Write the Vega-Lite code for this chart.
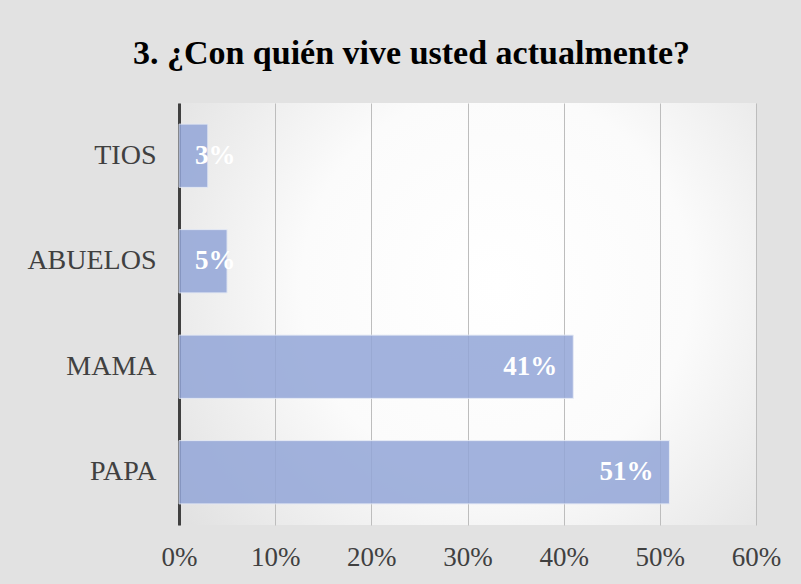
{
  "$schema": "https://vega.github.io/schema/vega-lite/v6.json",
  "width": 577,
  "height": 422,
  "autosize": {"type": "none"},
  "padding": {"left": 179, "top": 103, "right": 45, "bottom": 59},
  "background": "#e2e2e2",
  "title": {
    "text": "3. ¿Con quién vive usted actualmente?",
    "font": "Liberation Serif",
    "fontSize": 34,
    "fontWeight": "bold",
    "color": "#000000",
    "anchor": "middle",
    "dx": -56,
    "baseline": "alphabetic",
    "offset": 5
  },
  "config": {
    "view": {
      "stroke": null,
      "fill": {
        "gradient": "radial",
        "x1": 0.55, "y1": 0.45, "r1": 0,
        "x2": 0.55, "y2": 0.45, "r2": 0.75,
        "stops": [
          {"offset": 0, "color": "#ffffff"},
          {"offset": 0.45, "color": "#fbfbfb"},
          {"offset": 1, "color": "#dcdcdc"}
        ]
      }
    }
  },
  "data": {
    "values": [
      {"categoria": "TIOS", "valor": 0.03},
      {"categoria": "ABUELOS", "valor": 0.05},
      {"categoria": "MAMA", "valor": 0.41},
      {"categoria": "PAPA", "valor": 0.51}
    ]
  },
  "encoding": {
    "y": {
      "field": "categoria",
      "type": "nominal",
      "sort": ["TIOS", "ABUELOS", "MAMA", "PAPA"],
      "scale": {"paddingInner": 0.4, "paddingOuter": 0.2},
      "axis": {
        "title": null,
        "ticks": false,
        "domainColor": "#404040",
        "domainWidth": 3,
        "labelFont": "Liberation Serif",
        "labelFontSize": 28,
        "labelColor": "#404040",
        "labelPadding": 23,
        "grid": false
      }
    }
  },
  "layer": [
    {
      "mark": {"type": "bar", "color": "#93a6d8", "opacity": 0.85, "stroke": "#e4e9f5", "strokeWidth": 1},
      "encoding": {
        "x": {
          "field": "valor",
          "type": "quantitative",
          "scale": {"domain": [0, 0.6]},
          "axis": {
            "title": null,
            "format": ".0%",
            "values": [0, 0.1, 0.2, 0.3, 0.4, 0.5, 0.6],
            "domain": false,
            "ticks": false,
            "grid": true,
            "gridColor": "#bdbdbd",
            "gridWidth": 1,
            "labelFont": "Liberation Serif",
            "labelFontSize": 27,
            "labelColor": "#404040",
            "labelPadding": 19,
            "labelBaseline": "top",
            "labelFlush": false,
            "labelOverlap": false
          }
        }
      }
    },
    {
      "transform": [{"filter": "datum.valor >= 0.1"}],
      "mark": {"type": "text", "align": "right", "baseline": "middle", "dx": -16, "font": "Liberation Serif", "fontSize": 27, "fontWeight": "bold", "color": "#ffffff"},
      "encoding": {
        "x": {"field": "valor", "type": "quantitative"},
        "text": {"field": "valor", "type": "quantitative", "format": ".0%"}
      }
    },
    {
      "transform": [{"filter": "datum.valor < 0.1"}],
      "mark": {"type": "text", "align": "left", "baseline": "middle", "dx": 16, "font": "Liberation Serif", "fontSize": 27, "fontWeight": "bold", "color": "#ffffff"},
      "encoding": {
        "x": {"datum": 0, "type": "quantitative"},
        "text": {"field": "valor", "type": "quantitative", "format": ".0%"}
      }
    }
  ]
}
